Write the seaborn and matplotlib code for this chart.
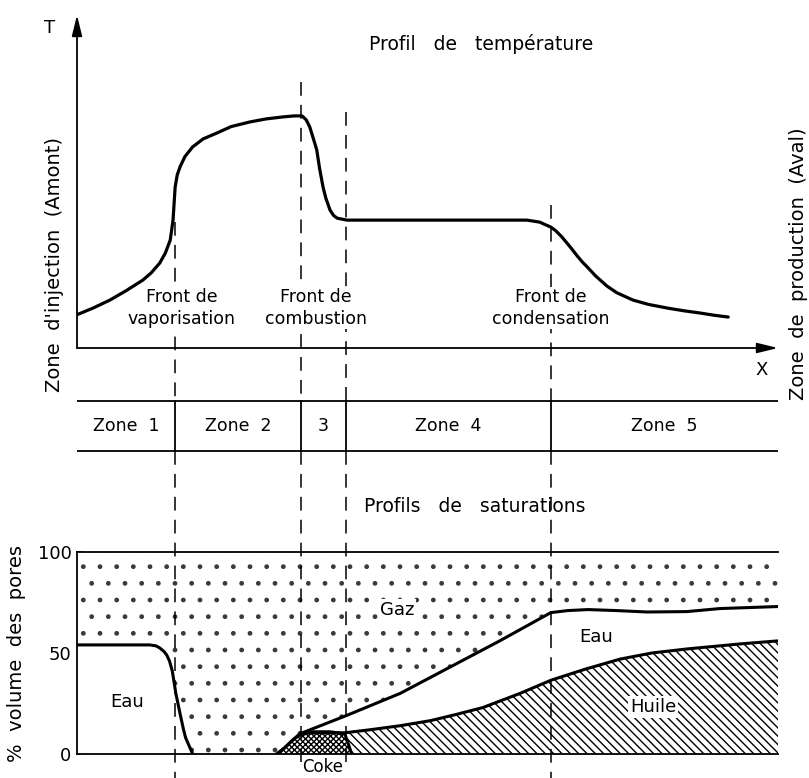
import matplotlib
matplotlib.use('Agg')
import matplotlib.pyplot as plt
import seaborn as sns

W, H = 809, 778

# positions along the reservoir, 0 = injection well, 100 = end of the X axis
fronts = [14.0, 31.95, 38.4, 67.6]
zone_labels = ['Zone  1', 'Zone  2', '3', 'Zone  4', 'Zone  5']
front_texts = ['Front de\nvaporisation', 'Front de\ncombustion', None, 'Front de\ncondensation']

# temperature profile (arbitrary units)
temp_x = [0, 2.3, 4.7, 7, 9.4, 10.6, 11.8, 12.6, 13.3, 13.7, 14.0, 14.3, 14.7, 15.4, 16.5,
          18, 20, 22, 24.7, 27, 29.4, 31, 32.1, 32.7, 33.2, 33.7, 34.2, 34.6, 35.1, 35.5,
          36.1, 36.6, 37.1, 38.5, 64.2, 66, 67.6, 68.3, 69.1, 69.9, 70.6, 71.3, 72.1, 72.8,
          74, 75.6, 77, 79.3, 81.5, 84.2, 86.5, 88.9, 91, 92.9]
temp_y = [10, 12, 14.4, 17.2, 20.4, 22.6, 25.5, 28.5, 32.4, 38.4, 48.3, 52, 54.4, 57.5, 60.4,
          62.8, 64.6, 66.5, 67.9, 68.8, 69.4, 69.7, 69.7, 68.5, 66.4, 63, 59.5, 54, 48.3, 45,
          41.4, 39.8, 39, 38.4, 38.4, 37.8, 36.3, 35.2, 33.5, 31.5, 29.7, 27.8, 25.8, 24.3,
          21.6, 18.6, 16.6, 14.4, 13.1, 12, 11.2, 10.5, 9.8, 9.3]

# saturation profiles (% pore volume)
water_x = [0, 10.4, 11.3, 11.8, 12.4, 12.8, 13.2, 13.6, 14.1, 14.7, 15.2, 15.5, 16.0, 16.5]
water_s = [54, 54, 53.5, 52.5, 50.8, 49, 46, 41, 30, 20, 12, 8, 4, 0]

gas_x = [28.5, 29.6, 30.8, 31.8, 38.4, 46.1, 53.2, 60.3, 67.6, 70, 72.9, 77, 81.3, 87, 91.7, 100]
gas_s = [0, 3, 7, 10, 19, 30, 43, 56, 70, 71, 71.5, 71, 70.3, 70.5, 72, 73]

oil_x = [31.8, 33.2, 38.2, 41.8, 46.1, 50.4, 54, 57.9, 63.2, 67.6, 72.5, 77.5, 82, 87, 94.6, 100]
oil_s = [9.5, 10.5, 10.5, 12, 14, 16.5, 19.5, 23, 30, 36.5, 42, 47, 50, 52, 54.5, 56]

coke_x = [28.5, 29.6, 30.8, 31.8, 33.2, 36.1, 38.2, 39.2]
coke_s = [0, 3, 7, 9.5, 11, 11, 10, 0]


def fx(px):
    return px / W


def fy(py):
    return 1 - py / H


sns.set_theme(style='white')
plt.rcParams['font.family'] = ['DejaVu Sans']
plt.rcParams['text.color'] = 'black'
plt.rcParams['hatch.linewidth'] = 1.0

fig = plt.figure(figsize=(W / 100, H / 100), dpi=100)

# ---- overlay: fronts, zone table (drawn below the temperature axes)
ov = fig.add_axes([fx(77), 0, 701 / W, 1], zorder=5)
ov.set_xlim(0, 100)
ov.set_ylim(H, 0)
ov.axis('off')
ov.patch.set_alpha(0)

# ---- temperature profile
ax_t = fig.add_axes([fx(77), fy(348), 701 / W, (348 - 15) / H], zorder=6)
ax_t.set_xlim(0, 100)
ax_t.set_ylim(0, 100)
ax_t.axis('off')
arrow = dict(arrowstyle='-|>,head_length=0.9,head_width=0.22', color='black', lw=1.3,
             shrinkA=0, shrinkB=0, mutation_scale=14)
ax_t.annotate('', xy=(0, 100), xytext=(0, 0), arrowprops=arrow, annotation_clip=False)
ax_t.annotate('', xy=(100, 0), xytext=(0, 0), arrowprops=arrow, annotation_clip=False)
sns.lineplot(x=temp_x, y=temp_y, ax=ax_t, color='black', lw=2.3, zorder=4)

front_offsets = [0.9, 2.1, 0, 0]
for xf, txt, off in zip(fronts, front_texts, front_offsets):
    if txt:
        ax_t.text(xf + off, 12, txt, ha='center', va='center', fontsize=12.5, linespacing=1.35,
                  bbox=dict(facecolor='white', edgecolor='none', pad=0.5), zorder=2)

# ---- saturation profiles
ax_s = fig.add_axes([fx(77), fy(754), 701 / W, (754 - 552) / H], zorder=1)
ax_s.set_xlim(0, 100)
ax_s.set_ylim(0, 100)
ax_s.fill_between([0, 100], 0, 100, facecolor='white', hatch='.', edgecolor='#3a3a3a',
                  lw=0, zorder=1)
ax_s.fill_between(water_x, 0, water_s, color='white', lw=0, zorder=2)
ax_s.fill_between(gas_x, 0, gas_s, color='white', lw=0, zorder=2)
ax_s.fill_between(oil_x, 0, oil_s, facecolor='white', hatch='\\\\\\\\', edgecolor='black',
                  lw=0, zorder=3)
ax_s.fill_between(coke_x, 0, coke_s, facecolor='white', hatch='xxxxxx', edgecolor='black',
                  lw=0, zorder=4)
for xs, ys in [(water_x, water_s), (gas_x, gas_s), (oil_x, oil_s), (coke_x, coke_s)]:
    sns.lineplot(x=xs, y=ys, ax=ax_s, color='black', lw=2.2, zorder=5)
ax_s.set_xticks([])
ax_s.set_yticks([0, 50, 100])
ax_s.tick_params(axis='y', labelsize=13, length=4, width=1.2, direction='in', pad=4,
                 colors='black', left=True)
for side in ['left', 'top', 'bottom']:
    ax_s.spines[side].set_visible(True)
    ax_s.spines[side].set_color('black')
    ax_s.spines[side].set_linewidth(1.3)
    ax_s.spines[side].set_zorder(6)
ax_s.spines['right'].set_visible(False)
ax_s.set_ylabel('%  volume  des  pores', fontsize=14, labelpad=8, color='black')

dash_spans = [(222, 778), (82, 762), (112, 762), (205, 778)]
table_top, table_bot = 401, 451
for xf, (y0, y1) in zip(fronts, dash_spans):
    ov.plot([xf, xf], [y0, table_top], color='black', lw=1.1, dashes=(9, 6))
    ov.plot([xf, xf], [table_bot, y1], color='black', lw=1.1, dashes=(9, 6))
    ov.plot([xf, xf], [table_top, table_bot], color='black', lw=1.3)
ov.plot([0, 100], [table_top, table_top], color='black', lw=1.3)
ov.plot([0, 100], [table_bot, table_bot], color='black', lw=1.3)

bounds = [0] + fronts + [100]
for i, lab in enumerate(zone_labels):
    ov.text((bounds[i] + bounds[i + 1]) / 2, 426, lab, ha='center', va='center', fontsize=12.5)

box = dict(facecolor='white', edgecolor='none', pad=1.5)
fig.text(fx(481), fy(44), 'Profil   de   température', ha='center', va='center',
         fontsize=13.5, zorder=10)
fig.text(fx(475), fy(506), 'Profils   de   saturations', ha='center', va='center',
         fontsize=13.5, zorder=10)
fig.text(fx(50), fy(28), 'T', ha='center', va='center', fontsize=13)
fig.text(fx(762), fy(370), 'X', ha='center', va='center', fontsize=13)
fig.text(fx(55), fy(264), "Zone  d'injection  (Amont)", ha='center', va='center',
         rotation=90, fontsize=14)
fig.text(fx(798), fy(264), 'Zone  de  production  (Aval)', ha='center', va='center',
         rotation=90, fontsize=14)
fig.text(fx(127), fy(702), 'Eau', ha='center', va='center', fontsize=13, zorder=10)
fig.text(fx(596), fy(637), 'Eau', ha='center', va='center', fontsize=13, zorder=10)
fig.text(fx(397), fy(610), 'Gaz', ha='center', va='center', fontsize=13, bbox=box, zorder=10)
fig.text(fx(653), fy(707), 'Huile', ha='center', va='center', fontsize=13, bbox=box, zorder=10)
fig.text(fx(323), fy(767), 'Coke', ha='center', va='center', fontsize=12, zorder=10)

fig.savefig('out.png', dpi=100, facecolor='white')
